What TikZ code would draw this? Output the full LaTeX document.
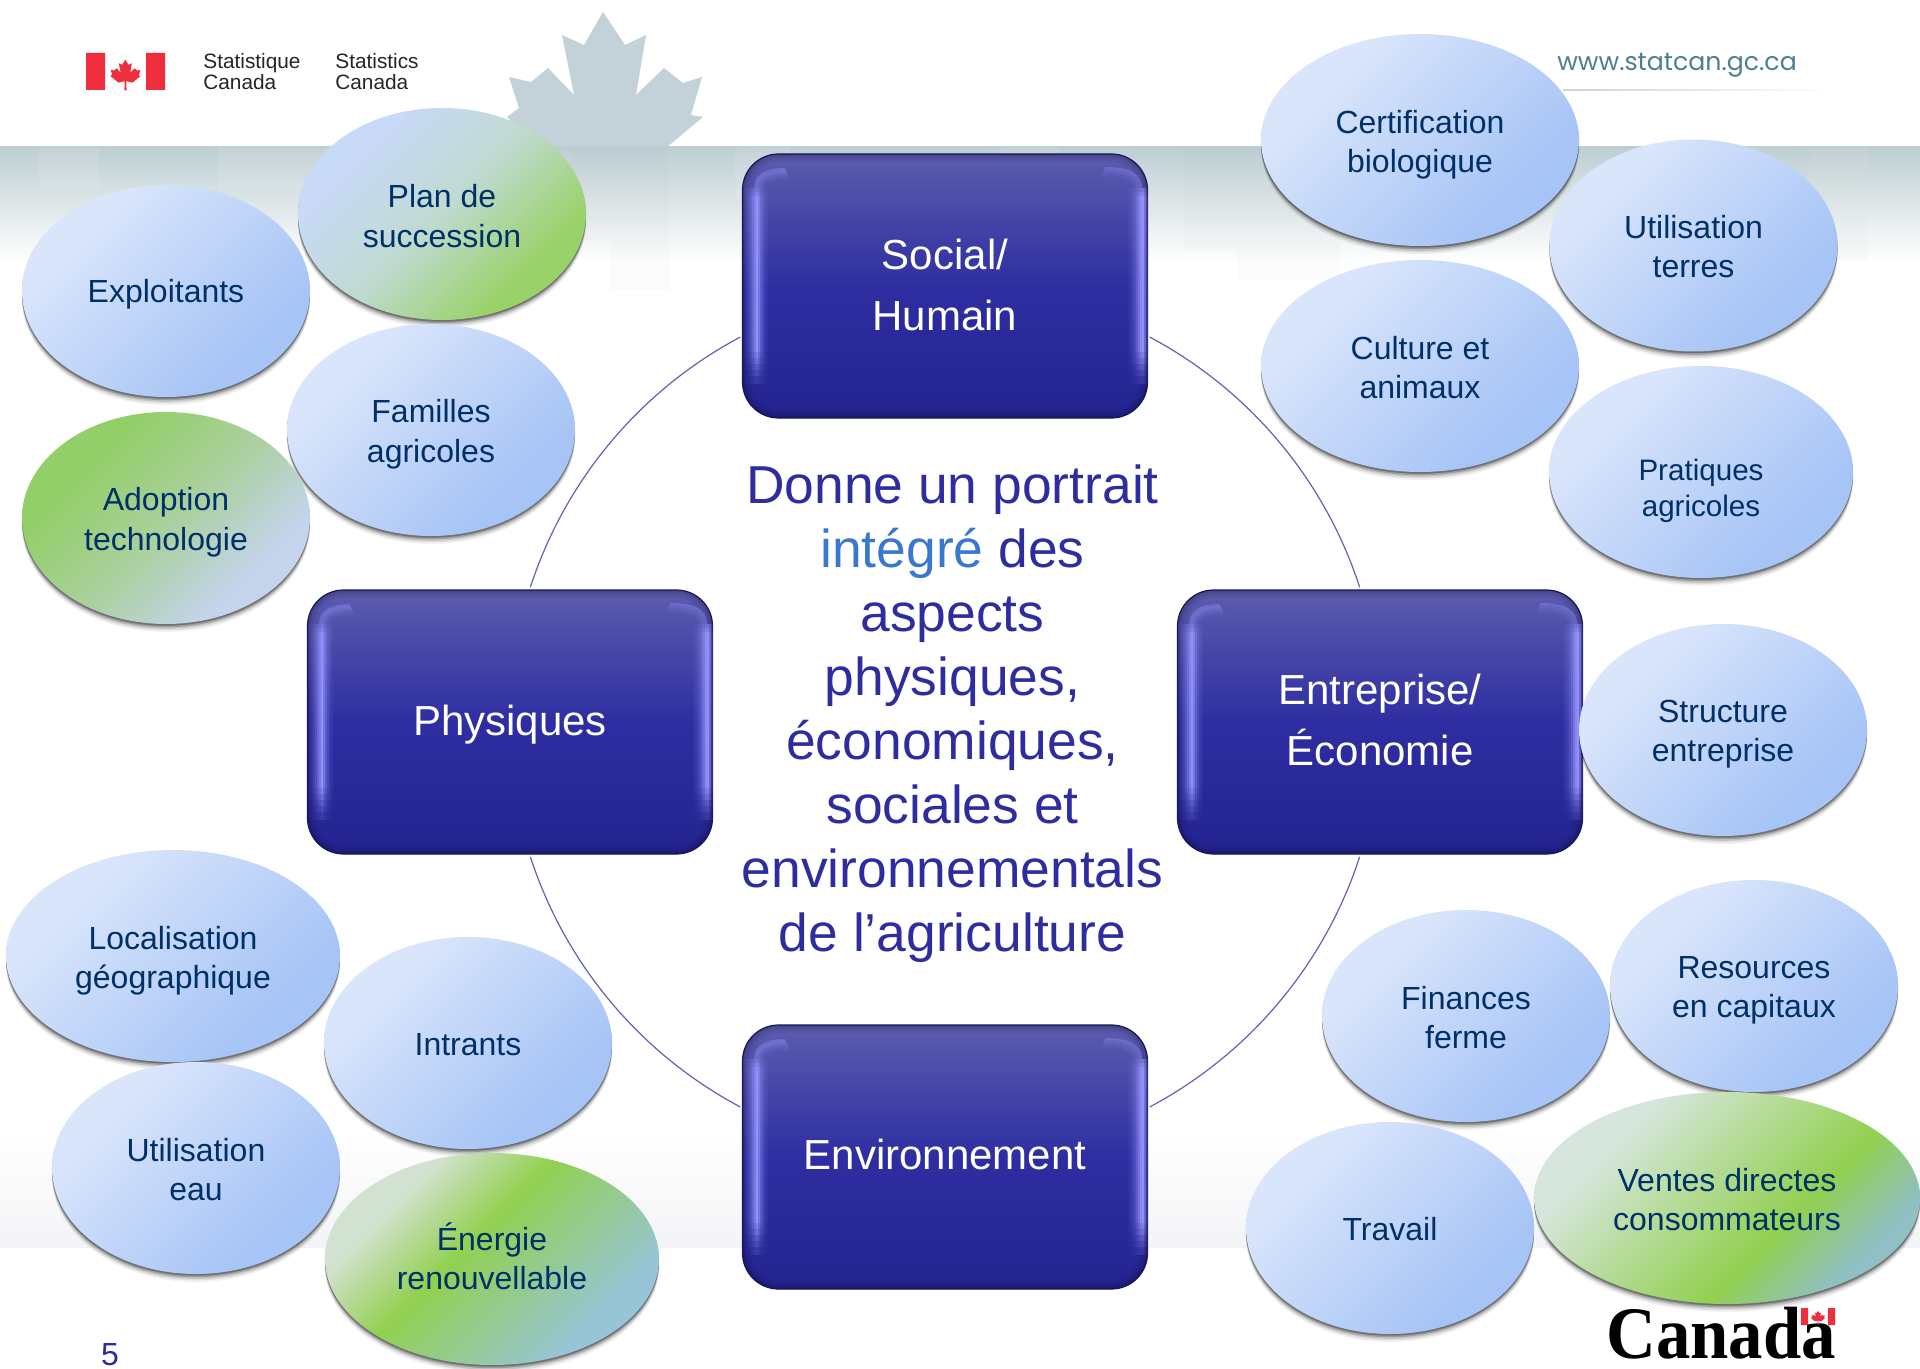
\documentclass[tikz,border=0pt]{standalone}
\usepackage{fontspec}
\setmainfont{Liberation Sans}
\newfontfamily\serifcan{Liberation Serif}
\newfontfamily\urlfont{Poppins}
\usetikzlibrary{shapes.geometric,shadows,calc}
\definecolor{ink}{HTML}{003068}
\definecolor{nbox}{HTML}{2D2DA0}
\definecolor{nred}{HTML}{EE2D3D}
\definecolor{leafc}{HTML}{C3D1D8}
\definecolor{bandc}{HTML}{BDCED2}
\definecolor{foot}{HTML}{F3F4F6}
\definecolor{urlc}{HTML}{4F7F8F}
\definecolor{intg}{HTML}{3A78D0}
\definecolor{hl}{HTML}{9696FF}
\definecolor{bA}{HTML}{D9E5FB}\definecolor{bB}{HTML}{A6C4F6}
\pgfdeclarehorizontalshading{blueb}{100bp}{color(0bp)=(bA);color(30bp)=(bA);color(70bp)=(bB);color(100bp)=(bB)}
\definecolor{pA}{HTML}{C9D9F8}\definecolor{pB}{HTML}{BFDACF}\definecolor{pC}{HTML}{9AD26A}
\pgfdeclarehorizontalshading{greenplan}{100bp}{color(0bp)=(pA);color(30bp)=(pA);color(50bp)=(pB);color(70bp)=(pC);color(100bp)=(pC)}
\definecolor{aA}{HTML}{93CF68}\definecolor{aB}{HTML}{ABD0A0}\definecolor{aC}{HTML}{C4D4EC}
\pgfdeclarehorizontalshading{greenadopt}{100bp}{color(0bp)=(aA);color(32bp)=(aA);color(52bp)=(aB);color(70bp)=(aC);color(100bp)=(aC)}
\definecolor{eA}{HTML}{D2E2D0}\definecolor{eB}{HTML}{92D050}\definecolor{eC}{HTML}{98C4D8}
\pgfdeclarehorizontalshading{greenener}{100bp}{color(0bp)=(eA);color(30bp)=(eA);color(45bp)=(eB);color(72bp)=(eC);color(100bp)=(eC)}
\definecolor{vA}{HTML}{D6E6DC}\definecolor{vB}{HTML}{92D050}\definecolor{vC}{HTML}{90BFC4}
\pgfdeclarehorizontalshading{greenvent}{100bp}{color(0bp)=(vA);color(30bp)=(vA);color(60bp)=(vB);color(73bp)=(vC);color(100bp)=(vC)}
\definecolor{gA}{HTML}{5C5CAE}\definecolor{gB}{HTML}{2E2EA2}\definecolor{gC}{HTML}{232390}
\pgfdeclareverticalshading{boxfill}{100bp}{color(0bp)=(gC);color(25bp)=(gC);color(50bp)=(gB);color(75bp)=(gA);color(100bp)=(gA)}
\tikzset{
  bub/.style={ellipse,inner sep=0pt,
    general shadow={fill=black,opacity=.05,shadow yshift=-4pt},
    general shadow={fill=black,opacity=.08,shadow yshift=-3.2pt},
    general shadow={fill=black,opacity=.12,shadow yshift=-2.4pt},
    general shadow={fill=black,opacity=.20,shadow yshift=-1.6pt},
    general shadow={fill=black,opacity=.28,shadow yshift=-.8pt,shadow scale=1.001},
    shading angle=-45},
  bubtext/.style={inner sep=0pt,align=center,text=ink,font=\fontsize{16}{19.6}\selectfont},
  bevel/.style={rectangle,rounded corners=18pt,draw=gC!75!black,line width=.6pt,
    shading=boxfill,minimum width=202.5pt,minimum height=132pt,inner sep=0pt},
  boxtext/.style={inner sep=0pt,align=center,text=white,font=\fontsize{21}{30.5}\selectfont},
  ring/.style={draw=nbox!75!white,line width=.6pt},
  logotext/.style={inner sep=0pt,align=left,text=black!85,font=\fontsize{10.4}{10.5}\selectfont},
  softsq/.style={fill=white,opacity=.10,draw=none},
  graysq/.style={fill=black!40!white,opacity=.03,draw=none},
  glint/.style={line width=1pt,draw=hl}
}
\newcommand{\leafpath}{(603,12) -- (625,45) -- (646,35) -- (636,95) -- (664,68) -- (683,83) -- (702,77) -- (691,115) -- (703,117) -- (667,147) -- (540,147) -- (507,117) -- (519,108) -- (509,77) -- (531,82) -- (548,68) -- (574,95) -- (562,35) -- (584,45) -- cycle}
\newcommand{\smallf}{\fontsize{14.8}{17.8}\selectfont}
% shading, name, cx, cy, width in pt, height in pt, text shift in pt (negative: down), text
\newcommand{\bubble}[8]{\node[bub,shading=#1,minimum width=#5 *1pt,minimum height=#6 *1pt,label={[bubtext,yshift=#7 pt]center:{#8}}] (#2) at (#3,#4) {};}
% one vertical glint with soft ends: x, opacity
\newcommand{\glintline}[2]{%
  \draw[glint,opacity=#2] (#1,-90) -- (#1,66);
  \foreach \ya/\yb/\k in {-94/-90/.8,-98/-94/.6,66/72/.85,72/78/.68,78/84/.5,84/90/.35,90/98/.2}{
    \pgfmathsetmacro\oa{#2*\k}
    \draw[glint,opacity=\oa] (#1,\ya) -- (#1,\yb);}}
\newcommand{\bevelbox}[5]{%
  \node[bevel,label={[boxtext,yshift=#4 pt]center:{#5}}] (#1) at (#2,#3) {};
  \begin{scope}[shift={(#1.center)}]
    % darker rim round the outer edge
    \foreach \n/\o in {1/.22,3/.14,5/.08,7/.04}{
      \draw[line width=1pt,draw=black,opacity=\o,rounded corners={18pt-\n*.5pt}] ({-202.5+\n},{-132+\n}) rectangle ({202.5-\n},{132-\n});}
    % left highlight
    \foreach \p/\o in {-200/.08,-198/.15,-196/.25,-194/.38,-192/.55,-190/.75,-188/.95,-186/.7,-184/.45,-182/.28,-180/.15,-178/.07}{
      \glintline{\p}{\o}}
    \foreach \p/\o/\q in {-190/.35/0,-188/.42/1,-186/.32/2,-184/.2/3,-182/.12/4,-180/.06/5}{
      \draw[glint,opacity=\o] (\p,-98) .. controls (\p,{-110+\q}) and ({\p+9},{-117+2*\q}) .. ({-160+\q},{-117+2*\q});}
    % right highlight
    \foreach \p/\o in {184/.06,186/.12,188/.2,190/.32,192/.48,194/.68,196/.88,198/.95,200/.6,202/.2}{
      \glintline{\p}{\o}}
    \foreach \p/\o/\q in {196/.35/0,194/.26/1,192/.18/2,190/.12/3,188/.06/4}{
      \draw[glint,opacity=\o] (\p,-98) .. controls (\p,{-110+\q}) and ({\p-9},{-118+2*\q}) .. ({160-\q},{-118+2*\q});}
  \end{scope}}
\begin{document}
\begin{tikzpicture}[x=.5pt,y=-.5pt]
\useasboundingbox (0,0) rectangle (1920,1369);
\fill[white] (0,0) rectangle (1920,1369);
% maple leaf
\fill[leafc] \leafpath;
% top band
\fill[top color=bandc,bottom color=white] (0,147) rectangle (1920,262);
\foreach \a/\b/\c in {39/99/190,218/330/190,735/790/200,1000/1060/190,1380/1440/210,1810/1868/240,1700/1760/200}{
  \fill[softsq] (\a,147) rectangle (\b,\c);}
\foreach \a/\b/\c in {611/669/290,570/611/240,1183/1237/250,1237/1340/280,1810/1868/260,395/470/290}{
  \fill[graysq] (\a,147) rectangle (\b,\c);}
% bottom band
\fill[top color=white,bottom color=foot] (0,1130) rectangle (1920,1247);
% logos
\fill[nred] (86,53) rectangle (105,90) (146,53) rectangle (165,90);
\begin{scope}[shift={(125.5,71)},scale=.155,shift={(-605,-85)}]
\fill[nred] (603,12) -- (625,45) -- (646,35) -- (636,95) -- (664,68) -- (683,83) -- (702,77) -- (691,115) -- (703,117) -- (650,160) -- (610,150) -- (612,210) -- (598,210) -- (600,150) -- (560,160) -- (507,117) -- (519,108) -- (509,77) -- (531,82) -- (548,68) -- (574,95) -- (562,35) -- (584,45) -- cycle;
\end{scope}
\node[logotext,anchor=west] (stfr) at (203,71.5) {Statistique\\Canada};
\node[logotext,anchor=west] (sten) at (335,71.5) {Statistics\\Canada};
\node[inner sep=0pt,text=urlc,font=\urlfont\fontsize{12.6}{14}\selectfont] (url) at (1677,65.5) {www.statcan.gc.ca};
\fill[left color=black!18!white,right color=white] (1563,89.5) rectangle (1835,90.7);
% ring
\coordinate (c) at (945,722);
\coordinate (r1) at ($(c)+(-62:436)$);
\coordinate (r2) at ($(c)+(18:436)$);
\coordinate (r3) at ($(c)+(118:436)$);
\coordinate (r4) at ($(c)+(198:436)$);
\draw[ring] (r1) arc[start angle=-62,end angle=-18,radius=436];
\draw[ring] (r2) arc[start angle=18,end angle=62,radius=436];
\draw[ring] (r3) arc[start angle=118,end angle=162,radius=436];
\draw[ring] (r4) arc[start angle=198,end angle=242,radius=436];
% boxes
\bevelbox{soc}{945}{286}{.6}{Social/\\Humain}
\bevelbox{phy}{510}{722}{-1.2}{Physiques}
\bevelbox{ent}{1380}{722}{1.2}{Entreprise/\\Économie}
\bevelbox{env}{945}{1157}{1.2}{Environnement}
% centre text
\node[inner sep=0pt,align=center,text=nbox,font=\fontsize{26.7}{32}\selectfont] (mid) at (952.5,714) {Donne un portrait\\\textcolor{intg}{intégré} des\\aspects\\physiques,\\économiques,\\sociales et\\environnementals\\de l’agriculture};
% bubbles
\bubble{blueb}{b1}{166}{291}{144}{106}{-1.8}{Exploitants}
\bubble{greenplan}{b2}{442}{214}{144}{106}{-1}{Plan de\\succession}
\bubble{blueb}{b3}{431}{430}{144}{106}{-2.1}{Familles\\agricoles}
\bubble{greenadopt}{b4}{166}{518}{144}{106}{-2.1}{Adoption\\technologie}
\bubble{blueb}{b5}{173}{956}{167}{106}{-2.4}{Localisation\\géographique}
\bubble{blueb}{b6}{468}{1043}{144}{106}{-.6}{Intrants}
\bubble{blueb}{b7}{196}{1168}{144}{106}{-.6}{Utilisation\\eau}
\bubble{greenener}{b8}{492}{1259}{167}{106}{1.2}{Énergie\\renouvellable}
\bubble{blueb}{b9}{1420}{140}{159}{106}{-2.4}{Certification\\biologique}
\bubble{blueb}{b10}{1693.5}{245.5}{144}{106}{-.6}{Utilisation\\terres}
\bubble{blueb}{b11}{1420}{366}{159}{106}{-.6}{Culture et\\animaux}
\bubble{blueb}{b12}{1701}{472}{152}{106}{-9.5}{\smallf Pratiques\\[-1.8pt]\smallf agricoles}
\bubble{blueb}{b13}{1723}{730}{144}{106}{-2.1}{Structure\\entreprise}
\bubble{blueb}{b14}{1754}{986}{144}{106}{-2.1}{Resources\\en capitaux}
\bubble{blueb}{b15}{1466}{1016}{144}{106}{-.6}{Finances\\ferme}
\bubble{blueb}{b16}{1390}{1228}{144}{106}{-.6}{Travail}
\bubble{greenvent}{b17}{1727}{1198}{193}{106}{-.6}{Ventes directes\\consommateurs}
% wordmark
\node[anchor=base west,inner sep=0pt,text=black,font=\serifcan\bfseries\fontsize{37}{37}\selectfont,xscale=.93,transform shape] (cdn) at (1606,1358) {Canada};
\fill[nred] (1801,1308) rectangle (1808,1325) (1828,1308) rectangle (1835,1325);
\begin{scope}[shift={(1818,1316)},scale=.07,shift={(-605,-85)}]
\fill[nred] (603,12) -- (625,45) -- (646,35) -- (636,95) -- (664,68) -- (683,83) -- (702,77) -- (691,115) -- (703,117) -- (650,160) -- (610,150) -- (612,210) -- (598,210) -- (600,150) -- (560,160) -- (507,117) -- (519,108) -- (509,77) -- (531,82) -- (548,68) -- (574,95) -- (562,35) -- (584,45) -- cycle;
\end{scope}
\node[inner sep=0pt,text=nbox,font=\fontsize{16}{18}\selectfont] (pg) at (110,1355) {5};
\end{tikzpicture}
\end{document}
